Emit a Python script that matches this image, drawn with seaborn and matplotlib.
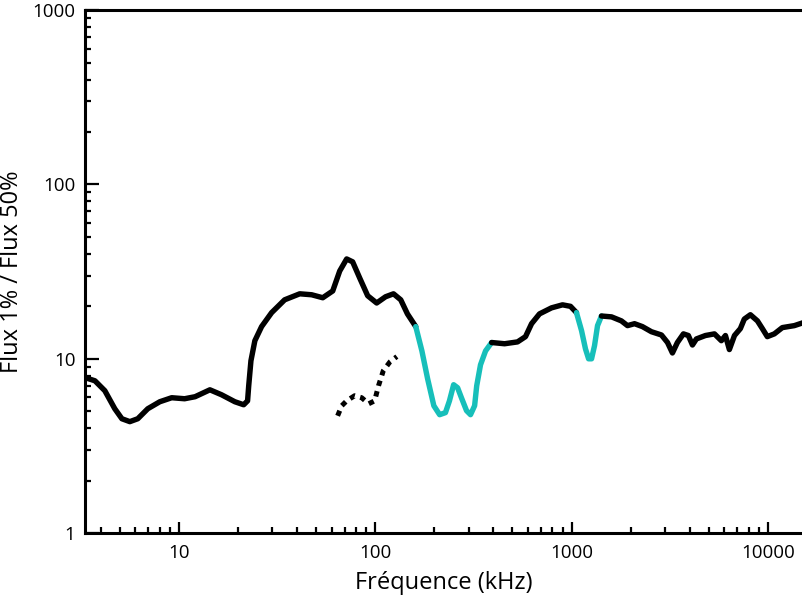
import numpy as np
import pandas as pd
import matplotlib.pyplot as plt
import seaborn as sns

# Données (fréquence en kHz, rapport de flux)
f_noir1 = [3.33, 3.74, 4.20, 4.72, 5.13, 5.63, 6.18, 6.95, 8.0, 9.2, 10.7, 12.1, 14.4, 16.5,
           19.3, 21.4, 22.4, 22.7, 23.3, 24.4, 26.4, 29.7, 34.6, 41.3, 47.5, 54.1, 60.8,
           66.0, 71.6, 76.8, 83.4, 91.6, 101.8, 113, 124, 135, 146, 161]
r_noir1 = [7.8, 7.48, 6.56, 5.17, 4.53, 4.36, 4.53, 5.17, 5.67, 5.98, 5.90, 6.06, 6.64, 6.22,
           5.67, 5.45, 5.74, 7.0, 9.74, 12.7, 15.3, 18.4, 21.8, 23.6, 23.3, 22.4, 24.5,
           31.9, 37.4, 36.0, 29.1, 23.0, 20.9, 22.7, 23.6, 21.8, 18.1, 15.3]

f_cyan1 = [161, 173, 185, 199, 213, 228, 239, 251, 263, 275, 292, 306, 321, 329, 344, 365, 392]
r_cyan1 = [15.3, 11.1, 7.68, 5.38, 4.78, 4.91, 5.74, 7.1, 6.82, 5.98, 5.04, 4.78, 5.38, 7.0,
           9.24, 11.1, 12.4]

f_noir2 = [392, 456, 531, 583, 626, 687, 791, 900, 988, 1060]
r_noir2 = [12.4, 12.2, 12.5, 13.4, 15.9, 18.1, 19.6, 20.4, 20.0, 18.4]

f_cyan2 = [1060, 1125, 1178, 1222, 1265, 1310, 1357, 1421]
r_cyan2 = [18.4, 14.5, 11.4, 10.0, 10.0, 11.9, 15.5, 17.6]

f_noir3 = [1421, 1599, 1795, 1928, 2094, 2297, 2553, 2871, 3083, 3266, 3461, 3715, 3937,
           4130, 4325, 4808, 5346, 5796, 6081, 6368, 6761, 7244, 7586, 8147, 8850, 9376,
           9935, 10790, 11850, 13640, 15350]
r_noir3 = [17.6, 17.4, 16.5, 15.5, 15.9, 15.3, 14.3, 13.7, 12.4, 10.8, 12.4, 13.9, 13.6,
           12.0, 13.0, 13.6, 13.9, 12.7, 13.6, 11.3, 13.6, 14.9, 16.9, 17.9, 16.5, 14.9,
           13.4, 13.9, 15.1, 15.5, 16.2]

f_pointille = [64.4, 67.6, 71.6, 78.6, 85.4, 92.7, 99.4, 104, 110, 119, 129]
r_pointille = [4.71, 5.38, 5.74, 6.14, 5.98, 5.52, 5.74, 7.0, 8.54, 9.61, 10.3]

x_ticks = [10, 100, 1000, 10000]
y_ticks = [1, 10, 100, 1000]

sns.set_style("ticks")
plt.rcParams["font.family"] = ["Open Sans", "DejaVu Sans"]
plt.rcParams["text.color"] = "black"
plt.rcParams["axes.labelcolor"] = "black"
plt.rcParams["xtick.color"] = "black"
plt.rcParams["ytick.color"] = "black"
plt.rcParams["axes.edgecolor"] = "black"

fig = plt.figure(figsize=(8.03, 5.99), dpi=100)
ax = fig.add_axes([0.1059, 0.110, 0.8941, 0.873])

noir = "#000000"
cyan = "#17bfba"
segments = [(f_noir1, r_noir1, noir), (f_cyan1, r_cyan1, cyan), (f_noir2, r_noir2, noir),
            (f_cyan2, r_cyan2, cyan), (f_noir3, r_noir3, noir)]
for f, r, c in segments:
    df = pd.DataFrame({"f": f, "r": r})
    sns.lineplot(data=df, x="f", y="r", ax=ax, color=c, lw=3.9, sort=False,
                 estimator=None, solid_capstyle="round", solid_joinstyle="round")

df_p = pd.DataFrame({"f": f_pointille, "r": r_pointille})
sns.lineplot(data=df_p, x="f", y="r", ax=ax, color=noir, lw=3.6, sort=False,
             estimator=None, linestyle=(0, (1.1, 1.1)), dash_capstyle="butt")

ax.set_xscale("log")
ax.set_yscale("log")
ax.set_xlim(3.33, 15100)
ax.set_ylim(1, 1000)
ax.set_xticks(x_ticks)
ax.set_xticklabels([str(t) for t in x_ticks])
ax.set_yticks(y_ticks)
ax.set_yticklabels([str(t) for t in y_ticks])

ax.spines["right"].set_visible(False)
for s in ["left", "bottom", "top"]:
    ax.spines[s].set_linewidth(2.2)

ax.tick_params(axis="both", which="major", direction="in", width=1.6, labelsize=13.5)
ax.tick_params(axis="y", which="major", length=10, pad=7)
ax.tick_params(axis="x", which="major", length=8, pad=8)
ax.tick_params(axis="both", which="minor", direction="in", width=1.6, length=4.5)

ax.set_xlabel("Fréquence (kHz)", fontsize=17, labelpad=6)
ax.set_ylabel("Flux 1% / Flux 50%", fontsize=17, labelpad=6)

fig.savefig("out.png", dpi=100)
